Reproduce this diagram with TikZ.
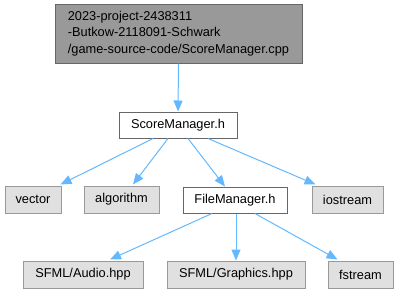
\documentclass[tikz,border=0pt]{standalone}
\usepackage{fontspec}
\setmainfont{Liberation Sans}
\usetikzlibrary{arrows.meta,calc}
\definecolor{edgeblue}{HTML}{63B8FF}
\definecolor{rootfill}{HTML}{999999}
\definecolor{darkline}{HTML}{666666}
\definecolor{extfill}{HTML}{E0E0E0}
\definecolor{extline}{HTML}{999999}
\tikzset{
  base/.style={draw, line width=1pt, inner sep=0pt, anchor=center,
    font=\fontsize{12.8}{16.6}\selectfont, text=black},
  rootbox/.style={base, fill=rootfill, draw=darkline, align=left},
  filebox/.style={base, fill=white, draw=darkline},
  extbox/.style={base, fill=extfill, draw=extline},
  dep/.style={draw=edgeblue, line width=1pt,
    -{Triangle[length=11pt,width=9pt]}}
}
\begin{document}
\begin{tikzpicture}[x=1pt,y=-1pt]
  \useasboundingbox (0,0) rectangle (399,293);

  % source file and headers
  \node[rootbox, minimum width=247pt, minimum height=59pt] (root) at (178.5,33.5)
    {2023-project-2438311\\-Butkow-2118091-Schwark\\/game-source-code/ScoreManager.cpp};
  \node[filebox, minimum width=118pt, minimum height=26pt] (sm) at (178,125) {ScoreManager.h};

  \node[extbox, minimum width=56pt, minimum height=27pt] (vec) at (33,199.5) {vector};
  \node[extbox, minimum width=75pt, minimum height=27pt] (alg) at (121.5,199.5) {algorithm};
  \node[filebox, minimum width=104pt, minimum height=26pt] (fm) at (235,200) {FileManager.h};
  \node[extbox, minimum width=71pt, minimum height=27pt] (io) at (347.5,199.5) {iostream};

  \node[extbox, minimum width=120pt, minimum height=27pt] (aud) at (83,274.5) {SFML/Audio.hpp};
  \node[extbox, minimum width=138pt, minimum height=27pt] (gfx) at (236,274.5) {SFML/Graphics.hpp};
  \node[extbox, minimum width=65pt, minimum height=27pt] (fs) at (360.5,274.5) {fstream};

  % include edges
  \draw[dep] (root.south) -- (sm.north);

  \draw[dep] ($(sm.south)+(-25,0)$) -- ($(vec.north east)+(-1,-1)$);
  \draw[dep] ($(sm.south)+(-10,0)$) -- ($(alg.north)+(11.5,-1)$);
  \draw[dep] ($(sm.south)+(10,0)$)  -- ($(fm.north)+(-10,0)$);
  \draw[dep] ($(sm.south)+(30,0)$)  -- ($(io.north west)+(4,-1)$);

  \draw[dep] ($(fm.south)+(-23,0)$) -- ($(aud.north)+(27,-1)$);
  \draw[dep] ($(fm.south)+(1,0)$)   -- (gfx.north);
  \draw[dep] ($(fm.south)+(20,0)$)  -- ($(fs.north west)+(10,-1)$);
\end{tikzpicture}
\end{document}
